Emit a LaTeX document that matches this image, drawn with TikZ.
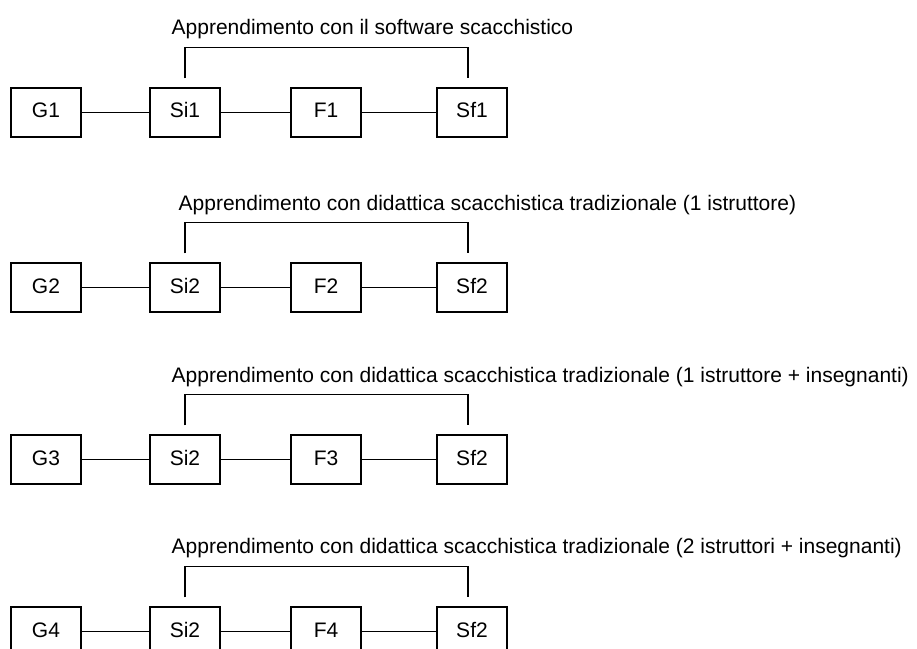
\documentclass[tikz,border=0pt]{standalone}
\usepackage{fontspec}
\setmainfont{Liberation Sans}
\usetikzlibrary{calc}

\begin{document}
\begin{tikzpicture}[x=0.75pt, y=-0.75pt, line width=1pt,
    box/.style={draw=black, minimum width=52.5pt, minimum height=36.75pt, inner sep=0pt, text height=11.25pt, text depth=3pt, font=\fontsize{15.75}{18}\selectfont},
    title/.style={anchor=base west, inner sep=0pt, font=\fontsize{15.75}{18}\selectfont},
    bracket/.style={draw=black}]
\useasboundingbox (0,0) rectangle (917,649);
% primo gruppo
\node[title] (t1) at (171,35) {Apprendimento con il software scacchistico};
\node[box] (g1) at (46,112.5) {G1};
\node[box] (si1) at (185,112.5) {Si1};
\node[box] (f1) at (326,112.5) {F1};
\node[box] (sf1) at (472,112.5) {Sf1};
\draw (g1) -- (si1);
\draw (si1) -- (f1);
\draw (f1) -- (sf1);
\draw[bracket] ([yshift=6.75pt]si1.north) |- ([xshift=-3pt,yshift=30pt]sf1.north) -- ([xshift=-3pt,yshift=6.75pt]sf1.north);
% secondo gruppo
\node[title] (t2) at (178,210) {Apprendimento con didattica scacchistica tradizionale (1 istruttore)};
\node[box] (g2) at (46,287.5) {G2};
\node[box] (si2) at (185,287.5) {Si2};
\node[box] (f2) at (326,287.5) {F2};
\node[box] (sf2) at (472,287.5) {Sf2};
\draw (g2) -- (si2);
\draw (si2) -- (f2);
\draw (f2) -- (sf2);
\draw[bracket] ([yshift=6.75pt]si2.north) |- ([xshift=-3pt,yshift=30pt]sf2.north) -- ([xshift=-3pt,yshift=6.75pt]sf2.north);
% terzo gruppo
\node[title] (t3) at (171,382) {Apprendimento con didattica scacchistica tradizionale (1 istruttore + insegnanti)};
\node[box] (g3) at (46,459.5) {G3};
\node[box] (si3) at (185,459.5) {Si2};
\node[box] (f3) at (326,459.5) {F3};
\node[box] (sf3) at (472,459.5) {Sf2};
\draw (g3) -- (si3);
\draw (si3) -- (f3);
\draw (f3) -- (sf3);
\draw[bracket] ([yshift=6.75pt]si3.north) |- ([xshift=-3pt,yshift=30pt]sf3.north) -- ([xshift=-3pt,yshift=6.75pt]sf3.north);
% quarto gruppo
\node[title] (t4) at (171,553) {Apprendimento con didattica scacchistica tradizionale (2 istruttori + insegnanti)};
\node[box] (g4) at (46,631.5) {G4};
\node[box] (si4) at (185,631.5) {Si2};
\node[box] (f4) at (326,631.5) {F4};
\node[box] (sf4) at (472,631.5) {Sf2};
\draw (g4) -- (si4);
\draw (si4) -- (f4);
\draw (f4) -- (sf4);
\draw[bracket] ([yshift=6.75pt]si4.north) |- ([xshift=-3pt,yshift=30pt]sf4.north) -- ([xshift=-3pt,yshift=6.75pt]sf4.north);
\end{tikzpicture}
\end{document}
